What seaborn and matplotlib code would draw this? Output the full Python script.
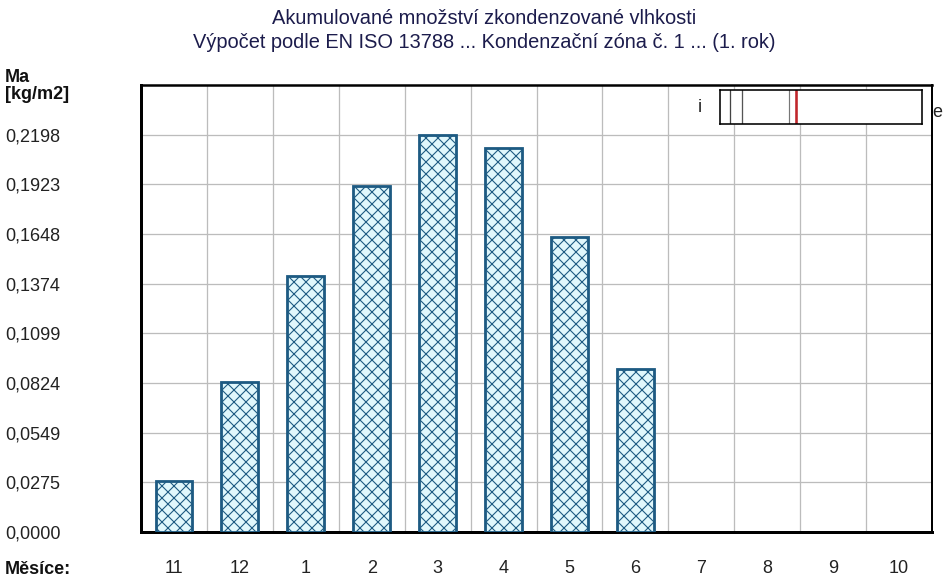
import matplotlib
matplotlib.use("Agg")
import matplotlib.pyplot as plt
import seaborn as sns
import pandas as pd
import numpy as np

# ---- data ----
months = ["11", "12", "1", "2", "3", "4", "5", "6", "7", "8", "9", "10"]
bar_months = ["11", "12", "1", "2", "3", "4", "5", "6"]
values = [0.0284, 0.0829, 0.1414, 0.1916, 0.2198, 0.2125, 0.1632, 0.0901]
ytick_values = [0.0, 0.0275, 0.0549, 0.0824, 0.1099, 0.1374, 0.1648, 0.1923, 0.2198]
ytick_labels = ["0,0000", "0,0275", "0,0549", "0,0824", "0,1099",
                "0,1374", "0,1648", "0,1923", "0,2198"]
title_lines = ["Akumulované množství zkondenzované vlhkosti",
               "Výpočet podle EN ISO 13788 ... Kondenzační zóna č. 1 ... (1. rok)"]
y_label = "Ma\n[kg/m2]"
x_label = "Měsíce:"

sns.set_style("white")
plt.rcParams['font.family'] = ['Liberation Sans', 'DejaVu Sans']
plt.rcParams['hatch.linewidth'] = 1.1

W, H, DPI = 944, 583, 72
fig = plt.figure(figsize=(W / DPI, H / DPI), dpi=DPI)
L, R, T, B = 141, 932, 85, 532
ax = fig.add_axes([L / W, 1 - B / H, (R - L) / W, (B - T) / H])

df = pd.DataFrame({"month": bar_months, "Ma": values})
sns.barplot(data=df, x="month", y="Ma", order=months, ax=ax, width=0.56,
            color="#e0f7fc", saturation=1, edgecolor="#1d5a82", linewidth=2.8,
            hatch="xx", errorbar=None, zorder=3)

ax.set_xlim(-0.5, len(months) - 0.5)
ax.set_ylim(0, ytick_values[-1] * 9 / 8)
ax.set_yticks(ytick_values)
ax.set_yticklabels(ytick_labels)
ax.set_xticks(range(len(months)))
ax.set_xticklabels(months)
ax.set_xticks(np.arange(0.5, len(months) - 1, 1), minor=True)
ax.set_axisbelow(True)
ax.yaxis.grid(True, color="#bcbcbc", lw=1.3)
ax.xaxis.grid(True, which="minor", color="#bcbcbc", lw=1.3)
ax.xaxis.grid(False, which="major")
ax.set_xlabel("")
ax.set_ylabel("")

ax.tick_params(axis="y", length=0, pad=L - 5, labelsize=18, labelcolor="#222222")
for lab in ax.get_yticklabels():
    lab.set_horizontalalignment("left")
ax.tick_params(axis="x", which="both", length=0, pad=28, labelsize=18,
               labelcolor="#222222")

for side, lw in (("left", 3), ("bottom", 3), ("top", 2.5), ("right", 2)):
    ax.spines[side].set_visible(True)
    ax.spines[side].set_color("black")
    ax.spines[side].set_linewidth(lw)

# titles and labels
fig.text(484 / W, 1 - 18 / H, title_lines[0], ha="center", va="center",
         fontsize=20, color="#1c1c4c")
fig.text(484 / W, 1 - 43 / H, title_lines[1], ha="center", va="center",
         fontsize=20, color="#1c1c4c")
fig.text(5 / W, 1 - 86 / H, y_label, ha="left", va="center", fontsize=18,
         fontweight="bold", color="#111111", linespacing=1.0)
fig.text(5 / W, 1 - 569 / H, x_label, ha="left", va="center", fontsize=18,
         fontweight="bold", color="#111111")

# construction layer sketch (inset)
ix0, ix1, iy0, iy1 = 720, 922, 90, 124
iax = fig.add_axes([ix0 / W, 1 - iy1 / H, (ix1 - ix0) / W, (iy1 - iy0) / H])
iax.set_facecolor("white")
iax.set_xlim(0, 1)
iax.set_ylim(0, 1)
iax.set_xticks([])
iax.set_yticks([])
for s in iax.spines.values():
    s.set_color("black")
    s.set_linewidth(1.6)
for xpx, col, lw in ((730, "#444444", 1.3), (742, "#555555", 1.3),
                     (789, "#777777", 1.2), (796, "#c0262c", 2.6)):
    iax.axvline((xpx - ix0) / (ix1 - ix0), color=col, lw=lw)
fig.text(700 / W, 1 - 108 / H, "i", ha="center", va="center", fontsize=18,
         color="#222222")
fig.text(937 / W, 1 - 113 / H, "e", ha="center", va="center", fontsize=18,
         color="#222222")

fig.savefig("out.png", dpi=DPI)
